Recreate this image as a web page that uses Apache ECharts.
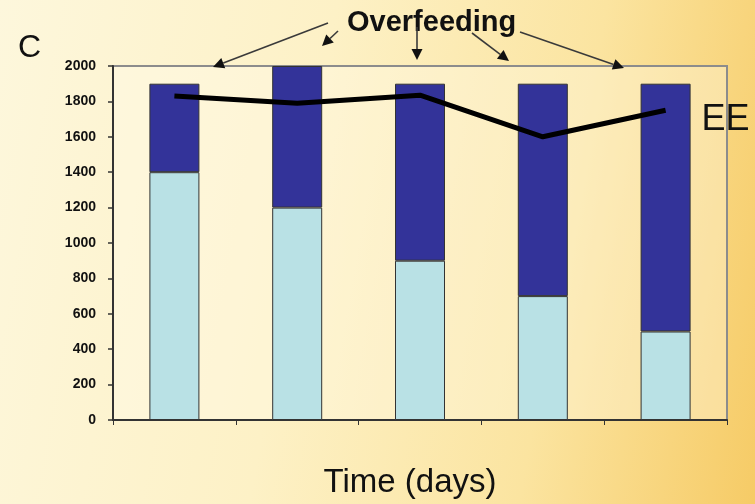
<!DOCTYPE html>
<html>
<head>
<meta charset="utf-8">
<script src="https://cdn.jsdelivr.net/npm/echarts@6/dist/echarts.min.js"></script>
<style>
html,body{margin:0;padding:0;width:755px;height:504px;overflow:hidden;
background:linear-gradient(100deg,#fdf7dc 0%,#fdf1c6 40%,#fbe4a0 72%,#f6cb66 100%);}
#chart{width:755px;height:504px;}
</style>
</head>
<body>
<div id="chart"></div>
<script>
var categories = ['Day 1','Day 2','Day 3','Day 4','Day 5'];
var baseValues = [1400, 1200, 900, 700, 500];
var overfeedValues = [500, 800, 1000, 1200, 1400];
var eeValues = [1830, 1790, 1835, 1600, 1750];
var yTicks = {min: 0, max: 2000, interval: 200};

function arrow(x1, y1, x2, y2) {
  var dx = x2 - x1, dy = y2 - y1, len = Math.sqrt(dx*dx + dy*dy);
  var ux = dx/len, uy = dy/len, L = 11, W = 5.5;
  var bx = x2 - ux*L, by = y2 - uy*L;
  return [
    {type:'line', shape:{x1:x1,y1:y1,x2:bx,y2:by}, style:{stroke:'#3a3a3a', lineWidth:1.6}},
    {type:'polygon', shape:{points:[[x2,y2],[bx - uy*W, by + ux*W],[bx + uy*W, by - ux*W]]}, style:{fill:'#111'}}
  ];
}
var arrows = [].concat(
  arrow(328, 23, 213, 67),
  arrow(338, 31, 322, 46),
  arrow(417, 27, 417, 60),
  arrow(472, 33, 509, 61),
  arrow(520, 32, 624, 68)
);

var chart = echarts.init(document.getElementById('chart'), null, {renderer:'canvas'});
chart.setOption({
  backgroundColor: 'transparent',
  animation: false,
  grid: {left: 113, right: 28, top: 66, bottom: 75, show: true,
    borderColor: '#8c8c8c', borderWidth: 2, backgroundColor: 'rgba(255,252,238,0.35)'},
  xAxis: {
    type: 'category', data: categories,
    name: 'Time (days)', nameLocation: 'middle', nameGap: 46,
    nameTextStyle: {fontFamily: 'Liberation Sans', fontSize: 33, color: '#111', padding: [0, 20, 0, 0]},
    axisLine: {lineStyle: {color: '#333', width: 2}},
    axisTick: {show: true, length: 5, lineStyle: {color: '#333', width: 1}},
    axisLabel: {show: false}
  },
  yAxis: {
    type: 'value', min: yTicks.min, max: yTicks.max, interval: yTicks.interval,
    splitLine: {show: false},
    axisLine: {show: true, lineStyle: {color: '#333', width: 2}},
    axisTick: {show: true, length: 5, lineStyle: {color: '#333', width: 1.5}},
    axisLabel: {margin: 17, fontFamily: 'Liberation Sans', fontWeight: 'bold', fontSize: 14, color: '#111',
      formatter: function (v) { return String(v); }}
  },
  series: [
    {type: 'bar', stack: 'total', data: baseValues, barWidth: 50,
     itemStyle: {color: '#b9e1e5', borderColor: '#333', borderWidth: 1}},
    {type: 'bar', stack: 'total', data: overfeedValues, barWidth: 50,
     itemStyle: {color: '#333399', borderColor: '#333', borderWidth: 1}},
    {type: 'line', data: eeValues, symbol: 'none', z: 5,
     lineStyle: {color: '#000', width: 5},
     endLabel: {show: true, formatter: 'EE', offset: [28, 10], fontFamily: 'Liberation Sans',
       fontSize: 36, color: '#111'}}
  ],
  graphic: [
    {type: 'text', left: 18, top: 32, style: {text: 'C', font: '32px "Liberation Sans"', fill: '#111'}},
    {type: 'text', left: 347, top: 8, style: {text: 'Overfeeding', font: 'bold 29px "Liberation Sans"', fill: '#111'}},
    {type: 'group', children: arrows}
  ]
});
</script>
</body>
</html>
